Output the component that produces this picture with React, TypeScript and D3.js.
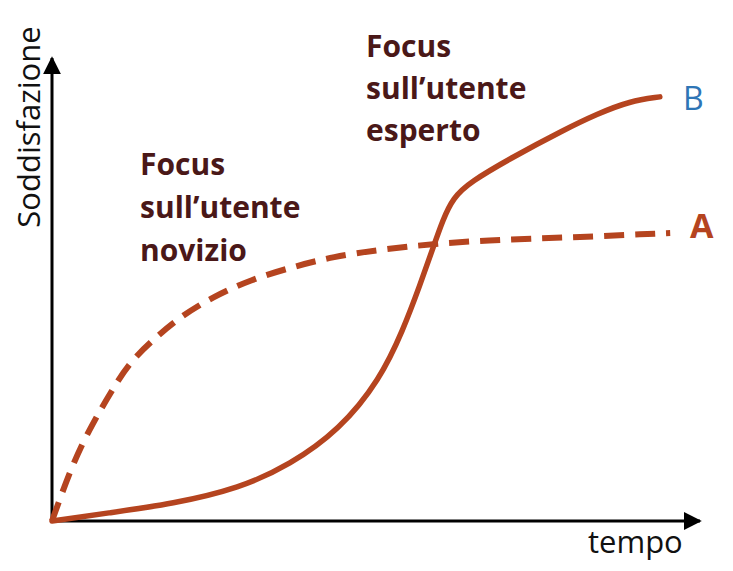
import * as d3 from 'd3';

// curve A (dashed): focus on novice user
const tA = [0, 3.2, 6.3, 9.3, 12, 16.2, 19.8, 24.8, 30.6, 37.2, 43.4, 50.6, 59.6, 71.1, 81.5, 91.8, 95.4];
const vA = [0, 12.5, 21.2, 28.3, 34.4, 39.9, 44.1, 48.4, 52.1, 54.9, 57.1, 58.6, 60, 60.9, 61.3, 62, 62.2];

// curve B (solid): focus on expert user
const tB = [0, 8.5, 18.7, 29, 36.7, 44.4, 50.6, 54.2, 56.8, 58.8, 60.3, 61.9, 64.5, 71.1, 78.9, 84.1, 89.2, 93.8];
const vB = [0, 1.7, 3.7, 7.1, 12.1, 19.7, 30.5, 41.3, 51, 59, 65, 69.8, 73.2, 78.6, 84.4, 87.9, 90.7, 91.6];

const noviceLines = ['Focus', 'sull\u2019utente', 'novizio'];
const expertLines = ['Focus', 'sull\u2019utente', 'esperto'];

const W = 733;
const H = 571;
const curveColor = '#b5441f';
const textColor = '#4a1818';
const font = '"Open Sans", sans-serif';

export default function App() {
  const x = d3.scaleLinear().domain([0, 100]).range([52, 700]);
  const y = d3.scaleLinear().domain([0, 100]).range([521, 58]);

  const line = d3.line<[number, number]>()
    .x(d => x(d[0]))
    .y(d => y(d[1]))
    .curve(d3.curveBasis);

  const ptsA = tA.map((t, i) => [t, vA[i]] as [number, number]);
  const ptsB = tB.map((t, i) => [t, vB[i]] as [number, number]);

  return (
    <svg width={W} height={H} style={{ position: 'absolute', left: 0, top: 0, background: '#fff' }}>
      <defs>
        <marker id="arrow" viewBox="0 0 10 10" refX="9" refY="5" markerWidth="6" markerHeight="6" orient="auto">
          <path d="M0,0 L10,5 L0,10 z" fill="#000" />
        </marker>
      </defs>

      {/* axes */}
      <line x1={x(0)} y1={y(0) + 1} x2={x(0)} y2={y(100)} stroke="#000" strokeWidth={3} markerEnd="url(#arrow)" />
      <line x1={x(0) - 1} y1={y(0)} x2={x(100)} y2={y(0)} stroke="#000" strokeWidth={3} markerEnd="url(#arrow)" />

      <path d={line(ptsA) || ''} fill="none" stroke={curveColor} strokeWidth={6} strokeDasharray="20 11" />
      <path d={line(ptsB) || ''} fill="none" stroke={curveColor} strokeWidth={5.5} strokeLinecap="round" />

      {/* axis labels */}
      <text transform="translate(40,127) rotate(-90)" textAnchor="middle" fontFamily={font} fontSize={31} fill="#111">
        Soddisfazione
      </text>
      <text x={588} y={553} fontFamily={font} fontSize={31} fill="#111">tempo</text>

      {/* annotations */}
      <text fontFamily={font} fontSize={30} fontWeight={700} fill={textColor}>
        {noviceLines.map((s, i) => (
          <tspan key={i} x={140} y={175 + i * 43}>{s}</tspan>
        ))}
      </text>
      <text fontFamily={font} fontSize={30} fontWeight={700} fill={textColor}>
        {expertLines.map((s, i) => (
          <tspan key={i} x={366} y={57 + i * 42}>{s}</tspan>
        ))}
      </text>

      <text x={683} y={110} fontFamily={font} fontSize={32} fill="#2e75b6">B</text>
      <text x={690} y={238} fontFamily={font} fontSize={34} fontWeight={700} fill={curveColor}>A</text>
    </svg>
  );
}
